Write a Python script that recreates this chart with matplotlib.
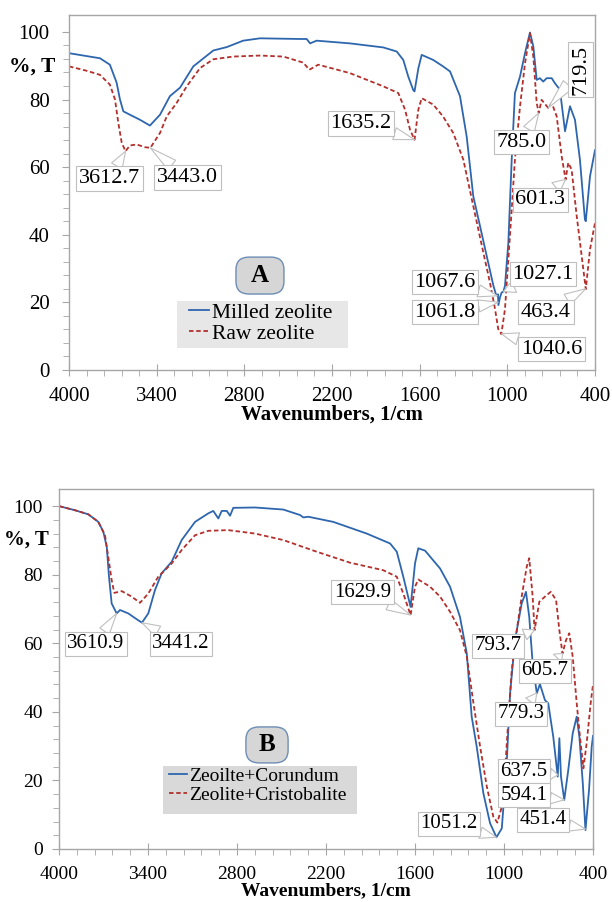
import matplotlib.pyplot as plt
from matplotlib.patches import FancyBboxPatch, Rectangle
import numpy as np

plt.rcParams['font.family'] = ['Liberation Serif', 'DejaVu Serif']

# ---- panel A data ----
a_milled_x = [4000, 3788, 3720, 3674, 3651, 3628, 3583, 3514, 3446, 3377, 3309, 3240, 3149, 3012,
              2920, 2808, 2692, 2560, 2419, 2373, 2350, 2305, 2077, 1849, 1757, 1712, 1678, 1644,
              1635, 1609, 1586, 1507, 1440, 1392, 1324, 1278, 1233, 1187, 1141, 1095, 1078, 1067,
              1064, 1061, 1050, 1039, 1027, 1016, 993, 970, 948, 913, 879, 845, 822, 799, 777,
              754, 731, 696, 674, 640, 605, 571, 537, 503, 469, 463, 434, 400]
a_milled_y = [93.7, 92.2, 90.3, 85.0, 80.0, 76.5, 75.5, 74.0, 72.3, 75.5, 81.0, 83.5, 89.8, 94.5,
              95.5, 97.4, 98.1, 98.0, 97.9, 97.9, 96.6, 97.4, 96.6, 95.4, 94.2, 91.7, 86.8, 82.8,
              82.4, 89.2, 93.2, 91.7, 89.8, 88.3, 81.0, 69.0, 51.4, 42.6, 33.7, 24.9, 22.4, 21.9,
              22.4, 19.2, 21.5, 22.9, 23.2, 24.9, 37.7, 62.2, 81.9, 86.8, 93.7, 99.8, 95.7, 85.8,
              86.3, 85.3, 86.3, 86.3, 84.8, 82.9, 70.6, 78.0, 74.0, 62.2, 44.5, 44.0, 57.3, 65.0]

a_raw_x = [4000, 3879, 3788, 3720, 3685, 3662, 3639, 3613, 3583, 3537, 3480, 3443, 3377, 3331,
           3263, 3194, 3103, 3012, 2876, 2692, 2533, 2396, 2355, 2294, 2077, 1849, 1746, 1700,
           1666, 1635, 1609, 1586, 1507, 1440, 1370, 1301, 1233, 1164, 1119, 1084, 1062, 1041,
           1016, 993, 970, 948, 913, 879, 845, 822, 799, 785, 765, 720, 696, 662, 628, 601,
           583, 560, 525, 491, 463, 434, 400]
a_raw_y = [89.8, 88.5, 87.3, 84.4, 80.0, 73.0, 67.2, 64.7, 66.4, 66.7, 65.9, 65.7, 70.1, 75.0,
           79.0, 83.9, 89.3, 91.9, 92.7, 93.0, 92.7, 90.9, 88.8, 90.3, 87.8, 83.9, 81.9, 77.0,
           71.1, 68.1, 77.0, 80.4, 78.5, 75.0, 70.1, 62.2, 48.5, 34.7, 25.9, 18.0, 12.1, 10.6,
           18.0, 32.7, 47.5, 62.2, 78.0, 90.7, 99.6, 92.7, 79.0, 76.0, 79.9, 77.5, 79.0, 75.0,
           63.2, 56.3, 61.3, 59.3, 45.5, 33.7, 23.9, 35.7, 43.5]

# ---- panel B data ----
b_cor_x = [4000, 3892, 3802, 3735, 3701, 3678, 3663, 3645, 3611, 3589, 3533, 3476, 3441, 3398,
           3353, 3308, 3240, 3173, 3083, 2993, 2960, 2926, 2903, 2869, 2847, 2825, 2679, 2488,
           2375, 2353, 2319, 2151, 1926, 1768, 1723, 1679, 1630, 1600, 1578, 1532, 1431, 1364,
           1297, 1251, 1218, 1184, 1139, 1094, 1051, 1015, 982, 959, 926, 881, 852, 830, 807,
           779, 758, 724, 702, 668, 638, 627, 616, 594, 567, 537, 510, 492, 469, 451, 427,
           409, 400]
b_cor_y = [100.0, 98.8, 97.6, 95.4, 92.5, 88.1, 79.4, 71.6, 68.7, 69.7, 68.7, 67.0, 66.0, 68.7,
           75.5, 80.4, 83.8, 90.1, 95.4, 97.9, 98.6, 96.4, 98.6, 98.6, 97.2, 99.5, 99.6, 99.0,
           97.4, 96.7, 96.9, 95.4, 92.0, 89.1, 86.7, 79.4, 70.6, 83.3, 87.7, 87.0, 81.8, 76.5,
           67.7, 57.0, 38.6, 29.8, 16.2, 7.5, 3.4, 6.0, 25.0, 45.4, 60.9, 71.6, 75.0, 67.7,
           54.1, 45.4, 48.1, 43.4, 42.5, 32.7, 21.1, 32.3, 21.1, 14.3, 23.0, 33.7, 38.6, 32.7,
           19.2, 5.5, 17.2, 29.8, 33.0]

b_cri_x = [4000, 3892, 3802, 3735, 3690, 3668, 3645, 3627, 3577, 3510, 3454, 3398, 3331, 3240,
           3173, 3083, 2993, 2859, 2679, 2488, 2263, 2038, 1814, 1723, 1679, 1630, 1600, 1578,
           1499, 1431, 1364, 1297, 1251, 1206, 1161, 1116, 1072, 1045, 1015, 993, 971, 948,
           914, 881, 847, 830, 807, 794, 762, 724, 685, 649, 627, 606, 582, 560, 537, 510, 488,
           465, 443, 416, 400]
b_cri_y = [100.0, 98.8, 97.6, 95.4, 91.5, 85.2, 78.4, 74.7, 75.2, 73.6, 71.8, 74.5, 79.4, 83.3,
           87.2, 91.5, 92.8, 93.0, 92.0, 90.1, 86.7, 83.5, 81.3, 79.4, 74.5, 68.2, 76.5, 78.6,
           76.5, 73.6, 69.2, 63.8, 56.1, 42.5, 29.8, 18.2, 9.4, 7.7, 12.3, 23.0, 37.6, 52.2,
           63.8, 73.6, 82.3, 84.8, 73.6, 63.8, 72.1, 73.6, 75.0, 72.6, 63.8, 57.0, 60.9, 62.9,
           56.1, 42.5, 32.7, 23.5, 30.8, 42.5, 48.0]

# peak labels: (text, wavenumber, which curve)
a_peaks = [('3612.7', 3612.7, 'raw'), ('3443.0', 3443.0, 'raw'), ('1635.2', 1635.2, 'raw'),
           ('719.5', 719.5, 'raw'), ('785.0', 785.0, 'raw'), ('601.3', 601.3, 'raw'),
           ('1067.6', 1067.6, 'milled'), ('1027.1', 1027.1, 'milled'), ('1061.8', 1061.8, 'milled'),
           ('463.4', 463.4, 'raw'), ('1040.6', 1040.6, 'raw')]
b_peaks = [('3610.9', 3610.9, 'cor'), ('3441.2', 3441.2, 'cor'), ('1629.9', 1629.9, 'cri'),
           ('793.7', 793.7, 'cri'), ('605.7', 605.7, 'cri'), ('779.3', 779.3, 'cor'),
           ('637.5', 637.5, 'cor'), ('594.1', 594.1, 'cor'), ('451.4', 451.4, 'cor'),
           ('1051.2', 1051.2, 'cor')]

# label box positions (wavenumber, %T)
a_label_pos = [(3723, 56.6), (3189, 56.9), (2002, 72.9), (499, 88.8), (903, 67.4), (773, 50.3),
               (1427, 26.0), (756, 28.3), (1427, 17.1), (735, 17.1), (698, 6.2)]
b_label_pos = [(3751, 59.9), (3177, 59.9), (1954, 74.9), (1040, 59.2), (723, 52.0), (885, 39.4),
               (865, 22.7), (865, 15.7), (737, 8.5), (1371, 7.3)]

blue = '#2E66AE'
red = '#B3302C'
grey = '#a6a6a6'


def style_axes(ax, fs, ypad):
    ax.set_xlim(4000, 400)
    ax.set_ylim(0, 105)
    ax.set_xticks(np.arange(4000, 399, -600))
    ax.set_xticks(np.arange(4000, 399, -120), minor=True)
    ax.set_yticks(np.arange(0, 101, 20))
    ax.set_yticks(np.arange(0, 101, 4), minor=True)
    for s in ax.spines.values():
        s.set_color(grey)
        s.set_linewidth(1.0)
    ax.tick_params(axis='x', which='major', direction='inout', length=9, color=grey,
                   labelsize=fs, pad=8)
    ax.tick_params(axis='x', which='minor', direction='out', length=4, color=grey)
    ax.tick_params(axis='y', which='major', direction='out', length=5, color=grey,
                   labelsize=fs, pad=ypad)
    ax.tick_params(axis='y', which='minor', direction='out', length=4, color=grey)
    ax.set_xlabel('Wavenumbers, 1/cm', fontsize=fs, fontweight='bold', labelpad=-1)


def label_peaks(ax, peaks, positions, curves, fs):
    for (txt, wn, key), (tx, ty) in zip(peaks, positions):
        cx, cy = curves[key]
        py = np.interp(wn, cx[::-1], cy[::-1])
        rot = 90 if txt == '719.5' else 0
        ax.annotate(txt, xy=(wn, py), xytext=(tx, ty), ha='center', va='center',
                    fontsize=fs, rotation=rot,
                    bbox=dict(boxstyle='square,pad=0.12', fc='white', ec='#bfbfbf', lw=0.8),
                    arrowprops=dict(arrowstyle='wedge,tail_width=0.55,shrink_factor=0.5',
                                    fc='white', ec='#bfbfbf', lw=0.8,
                                    shrinkA=0, shrinkB=0))


def add_legend(ax, rect, anchor, fs, bg):
    x0, y0, x1, y1 = rect
    ax.add_patch(Rectangle((x0, y0), x1 - x0, y1 - y0, transform=ax.transAxes,
                           fc=bg, ec='none', zorder=3))
    leg = ax.legend(loc='upper left', bbox_to_anchor=anchor, fontsize=fs, frameon=False,
                    handlelength=0.95, handletextpad=0.1, borderpad=0, labelspacing=0.05,
                    borderaxespad=0)
    leg.set_zorder(4)


def add_tag(ax, rect, letter):
    x0, y0, x1, y1 = rect
    ax.add_patch(FancyBboxPatch((x0, y0), x1 - x0, y1 - y0, transform=ax.transAxes,
                                boxstyle='round,pad=0,rounding_size=0.025', mutation_aspect=1.4,
                                fc='#d6d6d6', ec='#6d8db5', lw=1, zorder=3))
    ax.text((x0 + x1) / 2, (y0 + y1) / 2, letter, transform=ax.transAxes, ha='center',
            va='center', fontsize=18, fontweight='bold', zorder=4)


fig = plt.figure(figsize=(6.12, 9.02), dpi=100)
ax1 = fig.add_axes([0.1127, 0.5898, 0.8595, 0.3936])
ax2 = fig.add_axes([0.0964, 0.0588, 0.8726, 0.3991])

# panel A
ax1.plot(a_milled_x, a_milled_y, color=blue, lw=1.3, label='Milled zeolite')
ax1.plot(a_raw_x, a_raw_y, color=red, lw=1.3, ls=(0, (2.5, 1.5)), label='Raw zeolite')
style_axes(ax1, 15, 9)
label_peaks(ax1, a_peaks, a_label_pos,
            {'milled': (a_milled_x, a_milled_y), 'raw': (a_raw_x, a_raw_y)}, 16)
add_legend(ax1, (0.2053, 0.062, 0.5304, 0.194), (0.228, 0.19), 15.5, '#e7e7e7')
add_tag(ax1, (0.3175, 0.214, 0.4087, 0.318), 'A')
fig.text(32 / 612, 1 - 67 / 902, '%, T', ha='center', va='center', fontsize=15.5, fontweight='bold')

# panel B
ax2.plot(b_cor_x, b_cor_y, color=blue, lw=1.3, label='Zeoilte+Corundum')
ax2.plot(b_cri_x, b_cri_y, color=red, lw=1.3, ls=(0, (2.5, 1.5)), label='Zeolite+Cristobalite')
style_axes(ax2, 14, 6.5)
label_peaks(ax2, b_peaks, b_label_pos,
            {'cor': (b_cor_x, b_cor_y), 'cri': (b_cri_x, b_cri_y)}, 15)
add_legend(ax2, (0.195, 0.097, 0.558, 0.231), (0.206, 0.226), 14, '#d9d9d9')
add_tag(ax2, (0.350, 0.239, 0.429, 0.339), 'B')
fig.text(26 / 612, 1 - 540 / 902, '%, T', ha='center', va='center', fontsize=15, fontweight='bold')

fig.savefig('out.png', dpi=100)
